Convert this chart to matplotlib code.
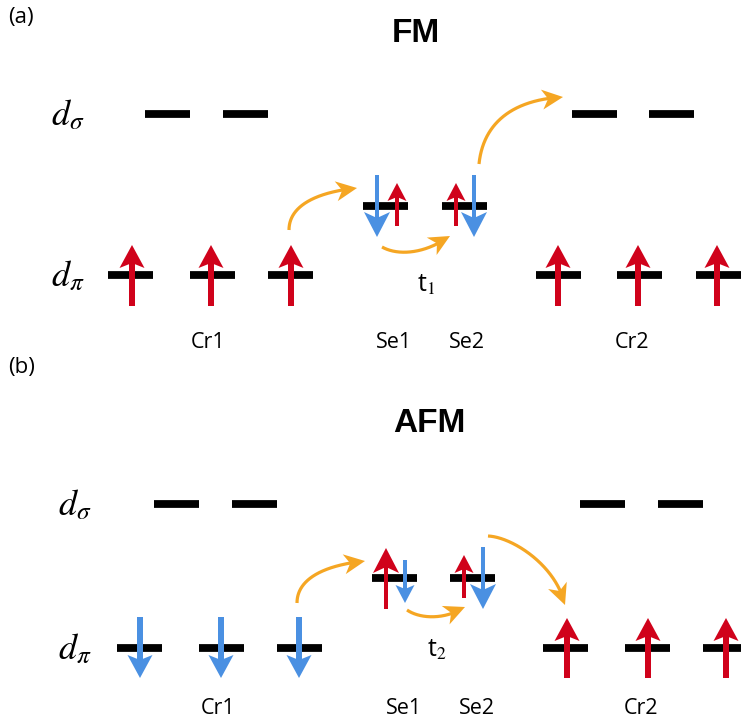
import numpy as np
import matplotlib
matplotlib.use("Agg")
import matplotlib.pyplot as plt
from matplotlib.patches import Polygon

plt.rcParams['mathtext.fontset'] = 'stix'

RED = '#d0021b'
BLUE = '#4a90e2'
ORANGE = '#f5a623'

# ---------------- data (pixel layout of the schematic) ----------------
panel_labels = ['(a)', '(b)']
panel_titles = ['FM', 'AFM']
site_labels = ['Cr1', 'Se1', 'Se2', 'Cr2']
hop_labels = [r't$_1$', r't$_2$']

# level centres (x) and heights (y) for each panel
dsig_x_a = [167, 245, 594, 671]
dsig_y_a = 114
dpi_x_a = [130, 212, 290, 558, 639, 718]
dpi_y_a = 275
se_x_a = [385, 464]
se_y_a = 206

dsig_x_b = [176, 254, 602, 680]
dsig_y_b = 504
dpi_x_b = [139, 221, 299, 565, 647, 725]
dpi_y_b = 648
se_x_b = [394, 472]
se_y_b = 578

# spins: x, tail y, tip y, colour, size ('cr', 'big', 'small')
spins_a = [
    (132, 306, 245, RED, 'cr'), (211, 306, 245, RED, 'cr'), (291, 306, 245, RED, 'cr'),
    (558, 306, 245, RED, 'cr'), (638, 306, 245, RED, 'cr'), (717, 306, 245, RED, 'cr'),
    (377, 175, 237, BLUE, 'big'), (397, 226, 183, RED, 'small'),
    (456, 226, 183, RED, 'small'), (474, 175, 237, BLUE, 'big'),
]
spins_b = [
    (140, 617, 678, BLUE, 'cr'), (221, 617, 678, BLUE, 'cr'), (299, 617, 678, BLUE, 'cr'),
    (567, 678, 618, RED, 'cr'), (648, 678, 618, RED, 'cr'), (726, 678, 618, RED, 'cr'),
    (386, 609, 548, RED, 'big'), (405, 560, 603, BLUE, 'small'),
    (464, 598, 555, RED, 'small'), (483, 547, 609, BLUE, 'big'),
]

# hopping paths (cubic Bezier control points)
hops_a = [
    [(289, 230), (289, 205), (318, 192), (357, 188)],
    [(382, 247), (398, 256), (425, 254), (450, 236)],
    [(479, 164), (483, 125), (510, 100), (563, 97)],
]
hops_b = [
    [(297, 603), (297, 578), (326, 565), (365, 561)],
    [(407, 610), (420, 619), (445, 620), (465, 607)],
    [(488, 536), (512, 537), (556, 565), (565, 605)],
]

# ---------------- drawing helpers ----------------
SIZES = {'cr': (5.5, 25, 23, 5), 'big': (4.5, 26, 25, 6), 'small': (4, 19, 18, 4)}
LEVEL_W = 45


def head(ax, tip, u, color, hw, hl, notch, z=5):
    n = np.array([-u[1], u[0]])
    base = tip - hl * u
    nt = tip - (hl - notch) * u
    ax.add_patch(Polygon([tip, base + hw / 2 * n, nt, base - hw / 2 * n],
                         closed=True, fc=color, ec='none', zorder=z))
    return nt


def spin(ax, x, y0, y1, color, size):
    s, hw, hl, notch = SIZES[size]
    tail = np.array([x, y0], float)
    tip = np.array([x, y1], float)
    u = (tip - tail) / np.linalg.norm(tip - tail)
    n = np.array([-u[1], u[0]])
    nt = head(ax, tip, u, color, hw, hl, notch)
    end = nt + 1.0 * u
    ax.add_patch(Polygon([tail + s / 2 * n, end + s / 2 * n, end - s / 2 * n, tail - s / 2 * n],
                         closed=True, fc=color, ec='none', zorder=5))


def hop(ax, pts, hw=20, hl=21, notch=6):
    P = np.array(pts, float)
    t = np.linspace(0, 1, 400)[:, None]
    B = ((1 - t) ** 3) * P[0] + 3 * ((1 - t) ** 2) * t * P[1] + 3 * (1 - t) * t ** 2 * P[2] + t ** 3 * P[3]
    tip = P[3]
    d = np.linalg.norm(B - tip, axis=1)
    idx = np.where(d >= hl)[0][-1]
    u = (tip - B[idx]) / np.linalg.norm(tip - B[idx])
    head(ax, tip, u, ORANGE, hw, hl, notch, z=6)
    keep = d >= (hl - notch - 2)
    ax.plot(B[keep, 0], B[keep, 1], color=ORANGE, lw=2.3, solid_capstyle='butt', zorder=6)


def levels(ax, xs, y):
    for x in xs:
        ax.plot([x - LEVEL_W / 2, x + LEVEL_W / 2], [y, y], color='black', lw=5.6,
                solid_capstyle='butt', zorder=3)


fig = plt.figure(figsize=(7.41, 7.27), dpi=100)
ax = fig.add_axes([0, 0, 1, 1])
ax.set_xlim(0, 741)
ax.set_ylim(727, 0)
ax.axis('off')

txt = dict(family=['Open Sans', 'DejaVu Sans'], color='black')

panels = [
    (dsig_x_a, dsig_y_a, dpi_x_a, dpi_y_a, se_x_a, se_y_a, spins_a, hops_a, 0),
    (dsig_x_b, dsig_y_b, dpi_x_b, dpi_y_b, se_x_b, se_y_b, spins_b, hops_b, 1),
]
label_y = [343, 708]
title_pos = [(416, 34), (429, 423)]
panel_pos = [(8, 17), (8, 368)]
dlabel_x = [68, 75]
site_x = [[208, 394, 467, 632], [218, 404, 477, 641]]
hop_pos = [(426, 285), (437, 650)]

for dsx, dsy, dpx, dpy, sex, sey, spins, hops, k in panels:
    levels(ax, dsx, dsy)
    levels(ax, dpx, dpy)
    levels(ax, sex, sey)
    for sp in spins:
        spin(ax, *sp)
    for h in hops:
        hop(ax, h)
    ax.text(dlabel_x[k], dsy + 1, r'$d_\sigma$', fontsize=26, ha='center', va='center')
    ax.text(dlabel_x[k], dpy + 1, r'$d_\pi$', fontsize=26, ha='center', va='center')
    ax.text(*title_pos[k], panel_titles[k], fontsize=24, fontweight='bold',
            family=['Liberation Sans', 'DejaVu Sans'], ha='center', va='center')
    ax.text(*panel_pos[k], panel_labels[k], fontsize=16, ha='left', va='center', **txt)
    for sx, lab in zip(site_x[k], site_labels):
        ax.text(sx, label_y[k], lab, fontsize=15.5, ha='center', va='center', **txt)
    ax.text(*hop_pos[k], hop_labels[k], fontsize=18, ha='center', va='center', **txt)

fig.savefig('out.png', dpi=100)
